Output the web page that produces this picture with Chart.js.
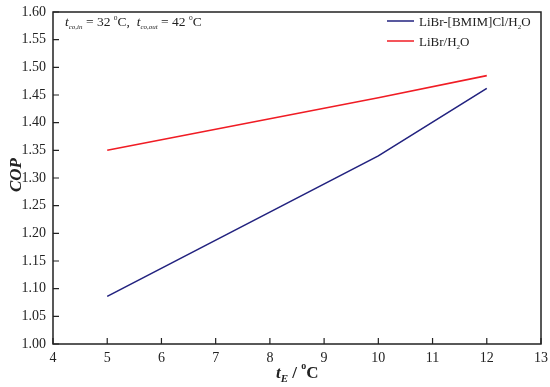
<!DOCTYPE html>
<html>
<head>
<meta charset="utf-8">
<script src="https://cdn.jsdelivr.net/npm/chart.js@4.4.1/dist/chart.umd.min.js"></script>
<style>
  html, body { margin: 0; padding: 0; background: #fff; }
  #wrap { width: 550px; height: 387px; }
</style>
</head>
<body>
<div id="wrap"><canvas id="cop"></canvas></div>
<script>
// ===== DATA =====
const tE = [5, 10, 12];
const copIonic = [1.086, 1.340, 1.462];   // LiBr-[BMIM]Cl/H2O
const copLiBr = [1.350, 1.445, 1.485];    // LiBr/H2O
const xTicks = [4, 5, 6, 7, 8, 9, 10, 11, 12, 13];
const yTicks = [1.00, 1.05, 1.10, 1.15, 1.20, 1.25, 1.30, 1.35, 1.40, 1.45, 1.50, 1.55, 1.60];

const FONT = "'Liberation Serif', 'Times New Roman', serif";
const INK = "#222";

// text with subscript parts: [[text, sub?], ...]
function drawRich(ctx, parts, x, y, size, style, subSize) {
    let cx = x;
    const ss = subSize || Math.round(size * 0.62);
    parts.forEach(p => {
        const sub = p[1];
        const fs = sub ? ss : size;
        ctx.font = (style || "") + " " + fs + "px " + FONT;
        ctx.fillText(p[0], cx, sub ? y + size * 0.25 : y);
        cx += ctx.measureText(p[0]).width;
    });
    return cx;
}

// ===== Frame, ticks, titles, legend =====
const framePlugin = {
    id: 'frame',
    afterDraw(chart) {
        const { ctx, chartArea: a, scales } = chart;
        ctx.save();
        ctx.strokeStyle = INK;
        ctx.lineWidth = 1.5;
        ctx.strokeRect(a.left, a.top, a.right - a.left, a.bottom - a.top);

        // inward ticks
        ctx.lineWidth = 1.2;
        ctx.beginPath();
        xTicks.forEach(v => {
            const px = scales.x.getPixelForValue(v);
            ctx.moveTo(px, a.bottom);
            ctx.lineTo(px, a.bottom - 6);
        });
        yTicks.forEach(v => {
            const py = scales.y.getPixelForValue(v);
            ctx.moveTo(a.left, py);
            ctx.lineTo(a.left + 6, py);
        });
        ctx.stroke();

        ctx.fillStyle = INK;
        ctx.textBaseline = "alphabetic";
        ctx.textAlign = "left";

        // annotation
        let px = 65;
        px = drawRich(ctx, [["t", 0], ["co,in", 1]], px, 26, 13.5, "italic", 7);
        px = drawRich(ctx, [[" = 32 ", 0]], px, 26, 13.5, "");
        px = drawRich(ctx, [["o", 0]], px, 20, 7.5, "");
        px = drawRich(ctx, [["C,  ", 0]], px, 26, 13.5, "");
        px = drawRich(ctx, [["t", 0], ["co,out", 1]], px, 26, 13.5, "italic", 7);
        px = drawRich(ctx, [[" = 42 ", 0]], px, 26, 13.5, "");
        px = drawRich(ctx, [["o", 0]], px, 20, 7.5, "");
        drawRich(ctx, [["C", 0]], px, 26, 13.5, "");

        // x title
        ctx.font = "bold italic 17px " + FONT;
        const w1 = ctx.measureText("t").width;
        ctx.font = "bold italic 10px " + FONT;
        const w2 = ctx.measureText("E").width;
        ctx.font = "bold 17px " + FONT;
        const w3 = ctx.measureText(" / ").width + ctx.measureText("C").width;
        ctx.font = "bold 10px " + FONT;
        const w4 = ctx.measureText("o").width;
        let tx = (a.left + a.right) / 2 - (w1 + w2 + w3 + w4) / 2;
        tx = drawRich(ctx, [["t", 0], ["E", 1]], tx, 378, 17, "bold italic");
        tx = drawRich(ctx, [[" / ", 0]], tx, 378, 17, "bold");
        tx = drawRich(ctx, [["o", 0]], tx, 369, 10, "bold");
        drawRich(ctx, [["C", 0]], tx, 378, 17, "bold");

        // y title
        ctx.save();
        ctx.translate(21, 175);
        ctx.rotate(-Math.PI / 2);
        ctx.font = "bold italic 17px " + FONT;
        ctx.textAlign = "center";
        ctx.fillText("COP", 0, 0);
        ctx.restore();

        // legend
        const legend = [
            [chart.data.datasets[0].borderColor, [["LiBr-[BMIM]Cl/H", 0], ["2", 1], ["O", 0]]],
            [chart.data.datasets[1].borderColor, [["LiBr/H", 0], ["2", 1], ["O", 0]]]
        ];
        legend.forEach((it, i) => {
            const ly = 21 + i * 20;
            ctx.strokeStyle = it[0];
            ctx.lineWidth = 1.5;
            ctx.beginPath();
            ctx.moveTo(387, ly);
            ctx.lineTo(414, ly);
            ctx.stroke();
            ctx.fillStyle = INK;
            drawRich(ctx, it[1], 419, ly + 5, 13, "", 7);
        });
        ctx.restore();
    }
};

new Chart(document.getElementById("cop"), {
    type: "line",
    data: {
        datasets: [{
            label: "LiBr-[BMIM]Cl/H2O",
            data: tE.map((x, i) => ({ x: x, y: copIonic[i] })),
            borderColor: "#22227f",
            borderWidth: 1.6,
            pointRadius: 0,
            tension: 0
        }, {
            label: "LiBr/H2O",
            data: tE.map((x, i) => ({ x: x, y: copLiBr[i] })),
            borderColor: "#f01c24",
            borderWidth: 1.6,
            pointRadius: 0,
            tension: 0
        }]
    },
    options: {
        responsive: true,
        maintainAspectRatio: false,
        animation: false,
        layout: { padding: { top: 12, right: 9, left: 0, bottom: 0 } },
        plugins: {
            legend: { display: false },
            tooltip: { enabled: false }
        },
        scales: {
            x: {
                type: "linear",
                min: 4,
                max: 13,
                afterBuildTicks(s) { s.ticks = xTicks.map(v => ({ value: v })); },
                afterFit(s) { s.height = 43; s.paddingLeft = 0; s.paddingRight = 0; },
                grid: { display: false, drawTicks: false },
                border: { display: false },
                ticks: {
                    color: INK,
                    padding: 6,
                    maxRotation: 0,
                    font: { family: FONT, size: 14 },
                    callback: v => String(v)
                }
            },
            y: {
                type: "linear",
                min: 1.0,
                max: 1.6,
                afterBuildTicks(s) { s.ticks = yTicks.map(v => ({ value: v })); },
                afterFit(s) { s.width = 53; s.paddingTop = 0; s.paddingBottom = 0; },
                grid: { display: false, drawTicks: false },
                border: { display: false },
                ticks: {
                    color: INK,
                    padding: 7,
                    font: { family: FONT, size: 14 },
                    callback: v => v.toFixed(2)
                }
            }
        }
    },
    plugins: [framePlugin]
});
</script>
</body>
</html>
